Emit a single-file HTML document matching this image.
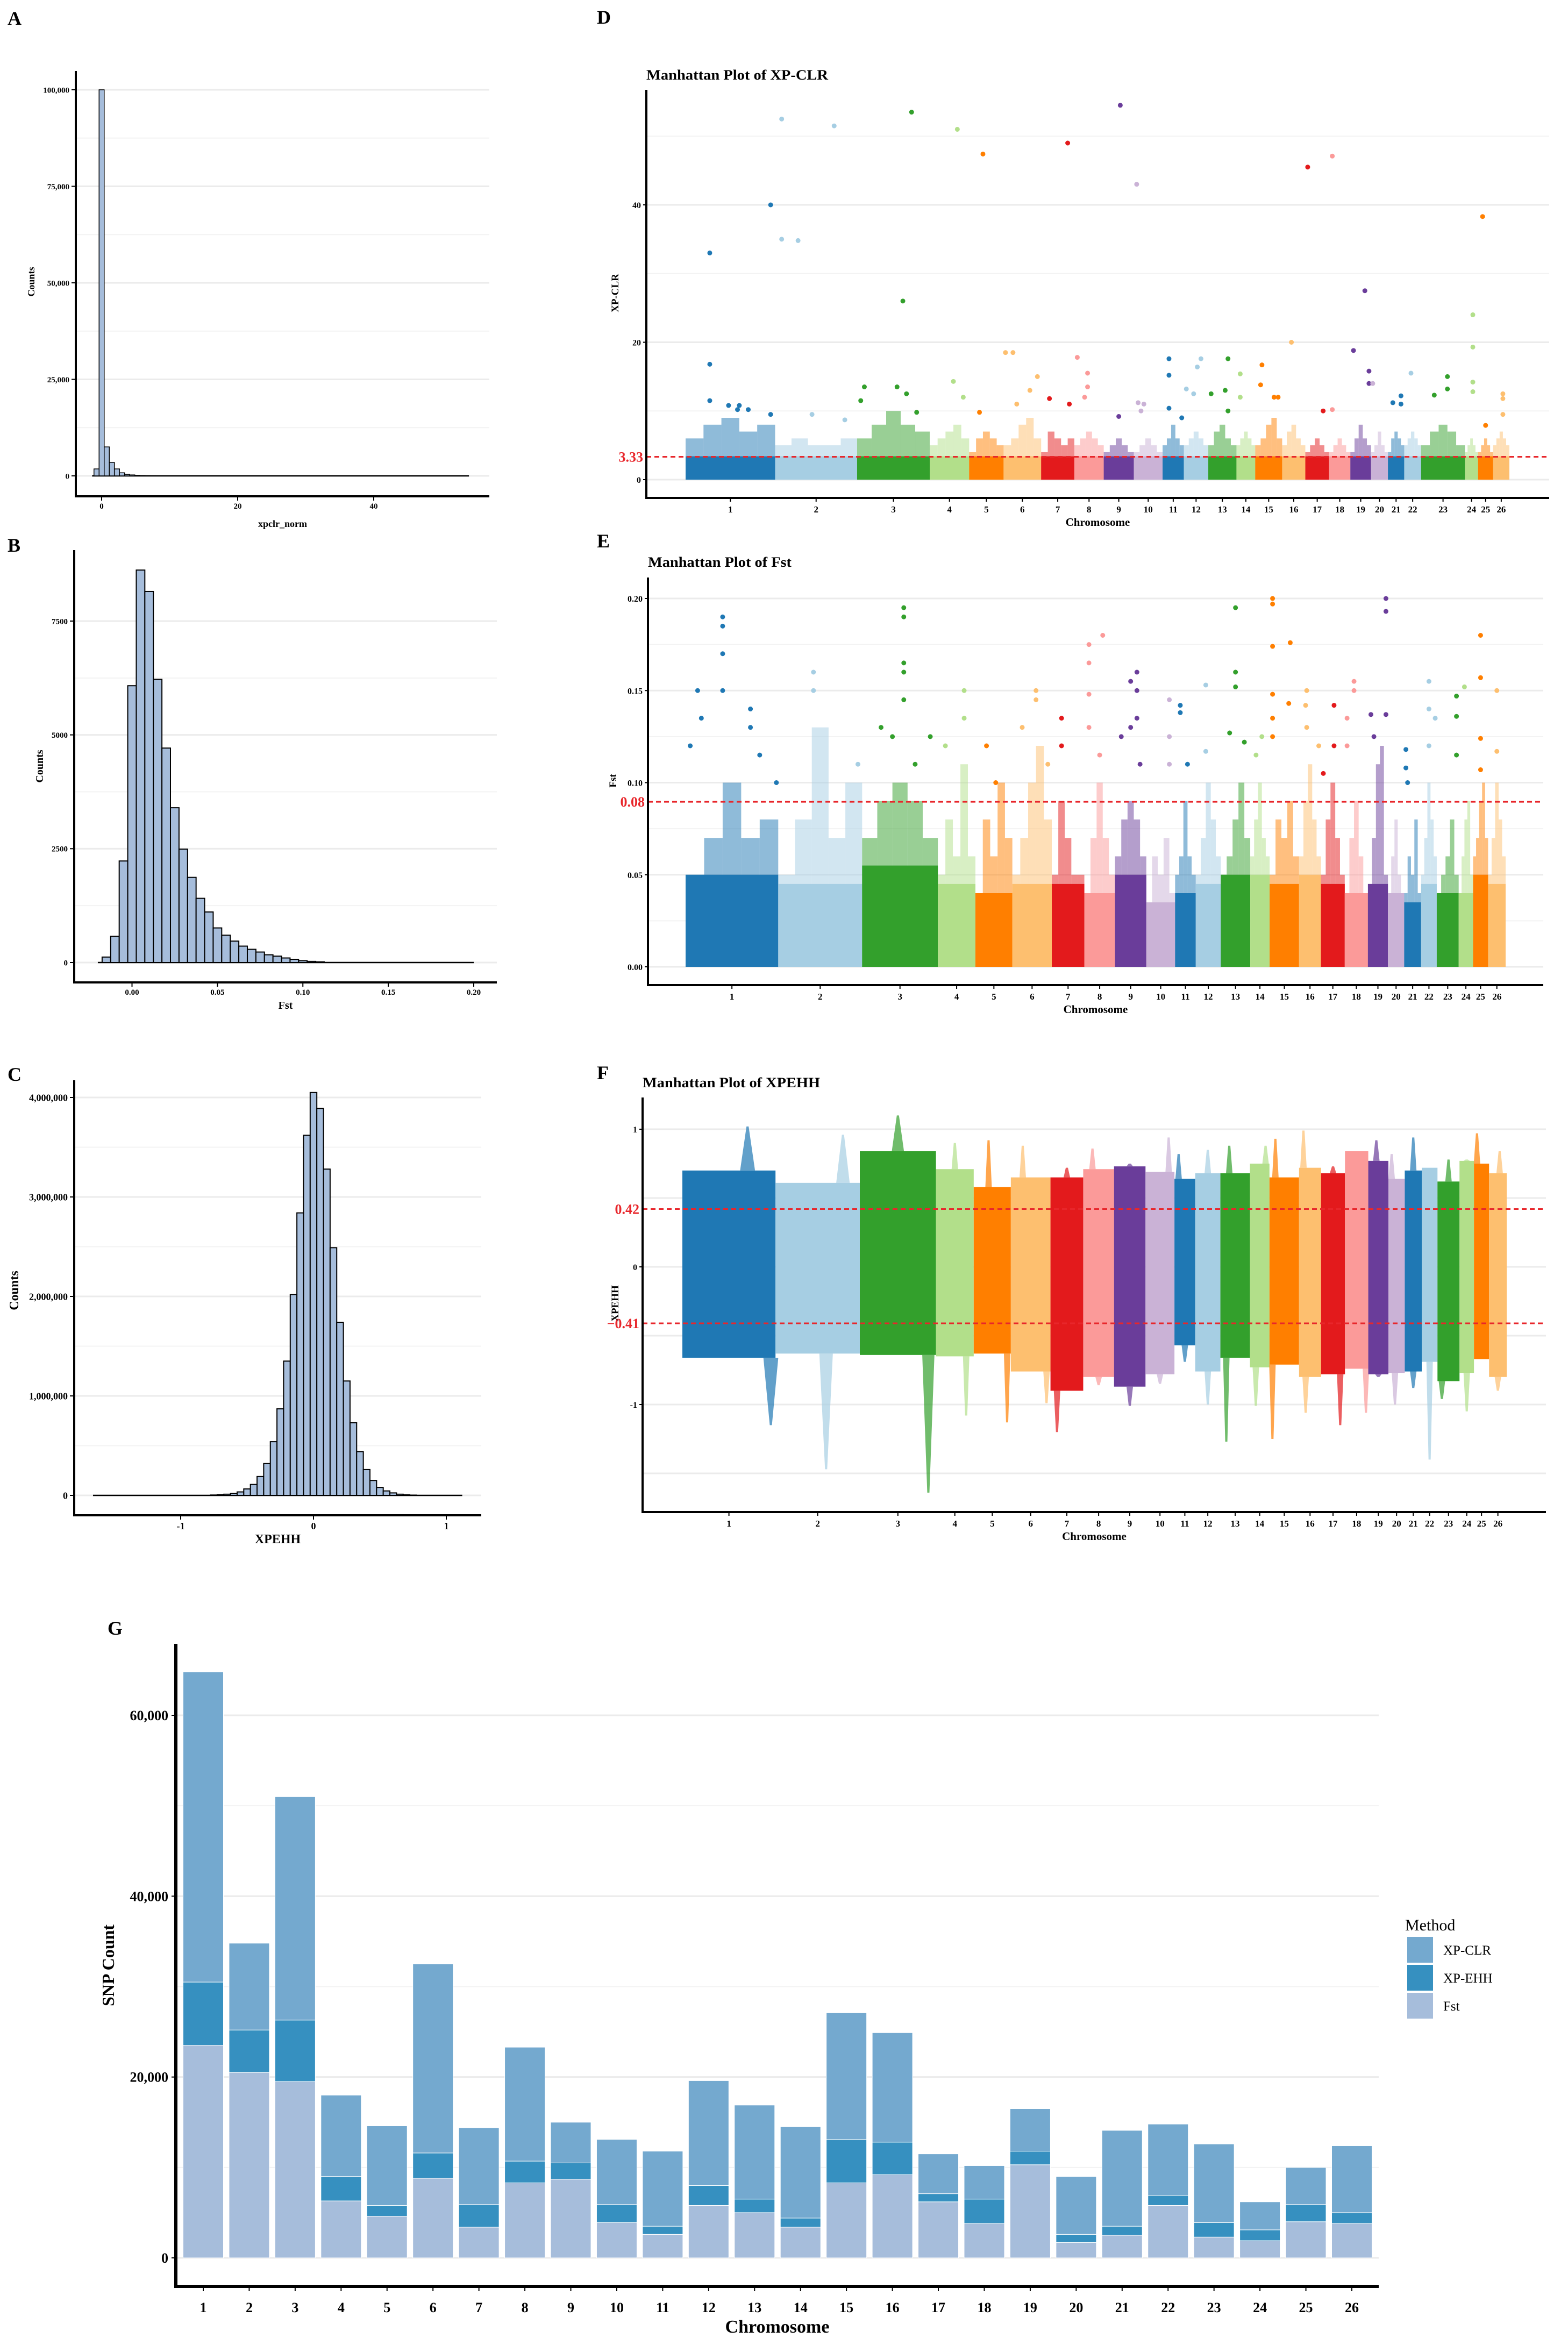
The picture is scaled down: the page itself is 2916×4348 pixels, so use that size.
<!DOCTYPE html>
<html><head><meta charset="utf-8">
<style>
html,body{margin:0;padding:0;background:#fff;}
svg{display:block;font-family:"Liberation Serif",serif;}
</style></head>
<body>
<svg id="fig" xmlns="http://www.w3.org/2000/svg" width="2916" height="4348" viewBox="0 0 2916 4348">
<rect x="0" y="0" width="2916" height="4348" fill="#fff"/>
</svg>
<script>
// ---------- DATA ----------
const aCenters = [-0.75,0,0.75,1.5,2.25,3,3.75,4.5,5.25,6,6.75,7.5];
const aCounts = [1800,100000,7500,3500,1800,800,400,250,150,100,60,40];
const aYTicks = [0,25000,50000,75000,100000];
const aYTickLabels = ["0","25,000","50,000","75,000","100,000"];
const aXTicks = [0,20,40];
const bCenters = [-0.015,-0.01,-0.005,0,0.005,0.01,0.015,0.02,0.025,0.03,0.035,0.04,0.045,0.05,0.055,0.06,0.065,0.07,0.075,0.08,0.085,0.09,0.095,0.1,0.105,0.11];
const bCounts = [120,575,2230,6080,8620,8150,6220,4710,3400,2490,1870,1410,1110,760,600,470,360,290,230,170,140,100,70,40,25,15];
const bYTicks = [0,2500,5000,7500];
const bXTicks = [0,0.05,0.1,0.15,0.2];
const bXTickLabels = ["0.00","0.05","0.10","0.15","0.20"];
const cCenters = [-0.75,-0.7,-0.65,-0.6,-0.55,-0.5,-0.45,-0.4,-0.35,-0.3,-0.25,-0.2,-0.15,-0.1,-0.05,0,0.05,0.1,0.15,0.2,0.25,0.3,0.35,0.4,0.45,0.5,0.55,0.6,0.65,0.7,0.75];
const cCounts = [4000,8000,12000,20000,35000,65000,110000,190000,320000,540000,870000,1350000,2020000,2840000,3620000,4050000,3890000,3280000,2490000,1740000,1150000,730000,440000,260000,150000,80000,45000,25000,12000,6000,3000];
const cYTicks = [0,1000000,2000000,3000000,4000000];
const cYTickLabels = ["0","1,000,000","2,000,000","3,000,000","4,000,000"];
const cXTicks = [-1,0,1];
const chromNames = ["1","2","3","4","5","6","7","8","9","10","11","12","13","14","15","16","17","18","19","20","21","22","23","24","25","26"];
const dLengths = [143,131,116,63,55,60,53,47,48,46,34,39,45,30,43,37,38,34,33,27,26,27,70,21,24,26];
const efLengths = [148,134,121,60,59,63,52,49,50,46,33,40,47,31,47,35,38,37,32,26,27,25,35,23,24,28];
const dEnvelope = [[6,8,9,7,8],[5,6,5,5,6],[6,8,10,8,7],[5,6,7,8,6],[4,6,7,6,5],[5,6,8,9,6],[4,7,6,5,6],[5,6,7,6,5],[4,5,6,5,4],[4,5,6,5,4],[5,6,8,6,5],[5,6,7,6,5],[5,7,8,6,5],[5,6,7,6,5],[5,6,8,9,6],[5,7,8,6,5],[4,5,6,5,4],[4,5,6,5,4],[4,6,8,6,5],[4,5,7,5,4],[4,6,7,6,5],[5,6,7,6,5],[5,7,8,7,5],[4,5,6,5,4],[4,5,6,5,4],[5,6,7,6,5]];
const dOutliers = [
 [[0.27,33],[0.27,16.8],[0.27,11.5],[0.48,10.8],[0.6,10.8],[0.58,10.2],[0.7,10.2],[0.95,40],[0.95,9.5]],
 [[0.08,52.5],[0.72,51.5],[0.08,35],[0.28,34.8],[0.45,9.5],[0.85,8.7]],
 [[0.75,53.5],[0.63,26],[0.1,13.5],[0.55,13.5],[0.68,12.5],[0.82,9.8],[0.05,11.5]],
 [[0.7,51],[0.6,14.3],[0.85,12]],
 [[0.4,47.4],[0.3,9.8]],
 [[0.05,18.5],[0.25,18.5],[0.9,15],[0.7,13],[0.35,11]],
 [[0.8,49],[0.25,11.8],[0.85,11]],
 [[0.1,17.8],[0.45,15.5],[0.45,13.5],[0.35,12]],
 [[0.55,54.5],[0.5,9.2]],
 [[0.1,43],[0.15,11.2],[0.35,11],[0.25,10]],
 [[0.3,17.6],[0.3,15.2],[0.3,10.4],[0.9,9]],
 [[0.7,17.6],[0.55,16.4],[0.1,13.2],[0.4,12.5]],
 [[0.7,17.6],[0.1,12.5],[0.6,13],[0.7,10]],
 [[0.2,15.4],[0.2,12]],
 [[0.25,16.7],[0.2,13.8],[0.7,12],[0.85,12]],
 [[0.4,20]],
 [[0.1,45.5],[0.75,10]],
 [[0.15,47.1],[0.15,10.2]],
 [[0.7,27.5],[0.15,18.8],[0.9,15.8],[0.9,14]],
 [[0.1,14]],
 [[0.3,11.2],[0.8,12.2],[0.8,11]],
 [[0.4,15.5]],
 [[0.6,15],[0.3,12.3],[0.6,13.2]],
 [[0.6,24],[0.6,19.3],[0.6,14.2],[0.6,12.8]],
 [[0.3,38.3],[0.5,7.9]],
 [[0.6,12.5],[0.6,11.8],[0.6,9.5]]];
const dSolidTop = [3.4,3.4,3.4,3.4,3.4,3.4,3.4,3.4,3.4,3.4,3.4,3.4,3.4,3.4,3.4,3.4,3.4,3.4,3.4,3.4,3.4,3.4,3.4,3.4,3.4,3.4];
const dYTicks = [0,20,40];
const dThreshold = 3.33;
const eEnvelope = [[0.05,0.07,0.10,0.07,0.08],[0.05,0.08,0.13,0.07,0.10],[0.07,0.09,0.10,0.09,0.07],[0.05,0.08,0.06,0.11,0.06],[0.04,0.08,0.06,0.10,0.07],[0.05,0.07,0.10,0.12,0.08],[0.05,0.09,0.07,0.05,0.05],[0.04,0.07,0.10,0.07,0.05],[0.06,0.08,0.09,0.08,0.06],[0.03,0.06,0.05,0.07,0.04],[0.05,0.06,0.09,0.06,0.05],[0.05,0.07,0.10,0.08,0.06],[0.05,0.06,0.08,0.10,0.07],[0.06,0.08,0.10,0.07,0.06],[0.05,0.08,0.07,0.09,0.06],[0.06,0.09,0.11,0.08,0.06],[0.05,0.08,0.10,0.07,0.05],[0.04,0.07,0.09,0.06,0.04],[0.04,0.07,0.11,0.12,0.05],[0.04,0.06,0.08,0.05,0.04],[0.04,0.06,0.05,0.08,0.04],[0.05,0.07,0.10,0.08,0.06],[0.04,0.05,0.06,0.08,0.05],[0.04,0.06,0.08,0.09,0.05],[0.06,0.07,0.09,0.10,0.07],[0.05,0.07,0.10,0.08,0.06]];
const eOutliers = [
 [[0.4,0.19],[0.4,0.185],[0.4,0.17],[0.4,0.15],[0.13,0.15],[0.17,0.135],[0.05,0.12],[0.7,0.14],[0.7,0.13],[0.8,0.115],[0.98,0.1]],
 [[0.42,0.16],[0.42,0.15],[0.95,0.11]],
 [[0.55,0.195],[0.55,0.19],[0.55,0.165],[0.55,0.16],[0.55,0.145],[0.25,0.13],[0.4,0.125],[0.9,0.125],[0.7,0.11]],
 [[0.7,0.15],[0.7,0.135],[0.2,0.12]],
 [[0.3,0.12],[0.55,0.10]],
 [[0.6,0.15],[0.6,0.145],[0.25,0.13],[0.9,0.11]],
 [[0.3,0.135],[0.3,0.12]],
 [[0.15,0.175],[0.15,0.165],[0.15,0.148],[0.6,0.18],[0.15,0.13],[0.5,0.115]],
 [[0.7,0.16],[0.5,0.155],[0.7,0.15],[0.7,0.135],[0.5,0.13],[0.2,0.125],[0.8,0.11]],
 [[0.8,0.145],[0.8,0.125],[0.8,0.11]],
 [[0.25,0.142],[0.25,0.138],[0.6,0.11]],
 [[0.4,0.153],[0.4,0.117]],
 [[0.5,0.195],[0.5,0.16],[0.5,0.152],[0.3,0.127],[0.8,0.122]],
 [[0.6,0.125],[0.3,0.115]],
 [[0.1,0.2],[0.1,0.197],[0.1,0.174],[0.7,0.176],[0.1,0.148],[0.65,0.143],[0.1,0.135],[0.1,0.125]],
 [[0.35,0.15],[0.3,0.142],[0.35,0.13],[0.9,0.12]],
 [[0.55,0.142],[0.55,0.12],[0.1,0.105]],
 [[0.4,0.155],[0.4,0.15],[0.1,0.135],[0.1,0.12]],
 [[0.9,0.2],[0.9,0.193],[0.15,0.137],[0.9,0.137],[0.3,0.125]],
 [],
 [[0.1,0.118],[0.1,0.108],[0.2,0.1]],
 [[0.5,0.155],[0.5,0.14],[0.9,0.135],[0.5,0.12]],
 [[0.9,0.147],[0.9,0.136],[0.9,0.115]],
 [[0.4,0.152]],
 [[0.5,0.18],[0.5,0.157],[0.5,0.124],[0.5,0.107]],
 [[0.5,0.15],[0.5,0.117]]];
const eSolidTop = [0.05,0.045,0.055,0.045,0.04,0.045,0.045,0.04,0.05,0.035,0.04,0.045,0.05,0.05,0.045,0.05,0.045,0.04,0.045,0.04,0.035,0.045,0.04,0.04,0.05,0.045];
const eYTicks = [0,0.05,0.1,0.15,0.2];
const eYTickLabels = ["0.00","0.05","0.10","0.15","0.20"];
const eThreshold = 0.0896;
const fBodyTop = [0.70,0.61,0.84,0.71,0.58,0.65,0.65,0.71,0.73,0.69,0.64,0.68,0.68,0.75,0.65,0.72,0.68,0.84,0.77,0.64,0.70,0.72,0.62,0.77,0.75,0.68];
const fMax = [1.02,0.96,1.10,0.90,0.92,0.88,0.72,0.86,0.75,0.94,0.82,0.85,0.88,0.88,0.93,0.99,0.73,0.84,0.92,0.82,0.94,0.72,0.78,0.78,0.97,0.84];
const fBodyBottom = [-0.66,-0.63,-0.64,-0.65,-0.63,-0.76,-0.90,-0.80,-0.87,-0.78,-0.57,-0.76,-0.66,-0.73,-0.71,-0.80,-0.78,-0.74,-0.78,-0.77,-0.76,-0.69,-0.83,-0.77,-0.67,-0.80];
const fMin = [-1.15,-1.47,-1.64,-1.08,-1.13,-0.99,-1.20,-0.86,-1.01,-0.85,-0.69,-1.00,-1.27,-1.01,-1.25,-1.06,-1.15,-1.06,-0.80,-1.00,-0.88,-1.40,-0.96,-1.05,-0.67,-0.90];
const fMaxPos = [0.7,0.8,0.5,0.5,0.4,0.3,0.5,0.3,0.5,0.8,0.2,0.5,0.3,0.8,0.2,0.2,0.5,0.3,0.4,0.2,0.5,0.5,0.5,0.5,0.2,0.6];
const fMinPos = [0.95,0.6,0.9,0.8,0.9,0.9,0.2,0.5,0.5,0.5,0.5,0.5,0.2,0.3,0.1,0.3,0.8,0.9,0.5,0.4,0.5,0.5,0.2,0.5,0.5,0.5];
const fYTicks = [-1,0,1];
const fThresholds = [0.42,-0.41];
const fThreshLabels = ["0.42","\u22120.41"];
const gChrom = chromNames;
const gFst = [23500,20500,19500,6300,4600,8800,3400,8300,8700,3900,2600,5800,5000,3400,8300,9200,6200,3800,10300,1700,2500,5800,2300,1900,4000,3800];
const gXpehh = [7000,4700,6800,2700,1200,2800,2500,2400,1800,2000,900,2200,1500,1000,4800,3600,900,2700,1500,900,1000,1100,1600,1200,1900,1200];
const gXpclr = [34300,9600,24700,9000,8800,20900,8500,12600,4500,7200,8300,11600,10400,10100,14000,12100,4400,3700,4700,6400,10600,7900,8700,3100,4100,7400];
const gYTicks = [0,20000,40000,60000];
const gYTickLabels = ["0","20,000","40,000","60,000"];
const gColors = {xpclr:"#74a9cf", xpehh:"#3690c0", fst:"#a6bddb"};
const palette = ["#1f78b4","#a6cee3","#33a02c","#b2df8a","#ff7f00","#fdbf6f","#e31a1c","#fb9a99","#6a3d9a","#cab2d6"];

// ---------- HELPERS ----------
const NS = "http://www.w3.org/2000/svg";
const svg = document.getElementById("fig");
function el(tag, attrs, parent){
  const e = document.createElementNS(NS, tag);
  for (const k in attrs) e.setAttribute(k, attrs[k]);
  (parent||svg).appendChild(e);
  return e;
}
function lin(d0,d1,r0,r1){ return v => r0 + (v-d0)*(r1-r0)/(d1-d0); }
function txt(x,y,s,size,anchor,parent,extra){
  const t = el("text", Object.assign({x:x,y:y,"font-size":size,"text-anchor":anchor||"middle","font-weight":"bold",fill:"#000"}, extra||{}), parent);
  t.textContent = s;
  return t;
}
function group(name){
  const g = el("g",{});
  
  
  return g;
}
function axes(g, L,T,R,B, w){
  const ya = el("line",{x1:L,y1:T,x2:L,y2:B,stroke:"#000","stroke-width":w},g);
  
  
  const xa = el("line",{x1:L-w/2,y1:B,x2:R,y2:B,stroke:"#000","stroke-width":w},g);
  
  
}
function hgrid(g,L,R,y,minor){
  const l = el("line",{x1:L,y1:y,x2:R,y2:y,stroke:minor?"#f3f3f3":"#ebebeb","stroke-width":minor?2:3},g);
  
  
}
function panelLabel(x,y,s){
  const t = txt(x,y,s,36,"start");
  
  
}

// ---------- HISTOGRAMS ----------
function histogram(cfg){
  const g = group(cfg.name);
  const xs = lin(cfg.xd[0],cfg.xd[1],cfg.xr[0],cfg.xr[1]);
  const ys = lin(cfg.yd[0],cfg.yd[1],cfg.yr[0],cfg.yr[1]);
  cfg.yTicks.forEach((v,i)=>{
    hgrid(g,cfg.L,cfg.R,ys(v),false);
    if(i<cfg.yTicks.length-1) hgrid(g,cfg.L,cfg.R,ys((v+cfg.yTicks[i+1])/2),true);
  });
  const bl = el("line",{x1:xs(cfg.base[0]),y1:ys(0),x2:xs(cfg.base[1]),y2:ys(0),stroke:"#000","stroke-width":2.5},g);
  
  
  const bw = Math.abs(xs(cfg.binW)-xs(0));
  cfg.centers.forEach((c,i)=>{
    const y0 = ys(0), y1 = ys(cfg.counts[i]);
    const r = el("rect",{x:xs(c)-bw/2,y:y1,width:bw,height:Math.max(0.5,y0-y1),fill:"#a6bddb",stroke:"#000","stroke-width":cfg.sw},g);
    
    
  });
  axes(g,cfg.L,cfg.T,cfg.R,cfg.B,cfg.aw);
  cfg.yTicks.forEach((v,i)=>{
    const y = ys(v);
    el("line",{x1:cfg.L-8,y1:y,x2:cfg.L,y2:y,stroke:"#000","stroke-width":2},g);
    const t = txt(cfg.L-12,y+cfg.fs*0.35,cfg.yLabels[i],cfg.fs,"end",g);
    
    
  });
  cfg.xTicks.forEach((v,i)=>{
    const x = xs(v);
    el("line",{x1:x,y1:cfg.B,x2:x,y2:cfg.B+8,stroke:"#000","stroke-width":2},g);
    const t = txt(x,cfg.B+8+cfg.fs,cfg.xLabels[i],cfg.fs,"middle",g);
    
    
  });
  const xt = txt((cfg.L+cfg.R)/2,cfg.xTitleY,cfg.xTitle,cfg.tfs,"middle",g);
  
  
  const yt = txt(0,0,"Counts",cfg.tfs,"middle",g,{transform:`translate(${cfg.yTitleX},${cfg.yTitleY}) rotate(-90)`});
  
  
}
histogram({name:"histogram-xpclr",L:141,T:132,R:910,B:923,xd:[0,40],xr:[189,695],yd:[0,100000],yr:[885,167],
  centers:aCenters,counts:aCounts,binW:0.75,base:[-1.4,54],yTicks:aYTicks,yLabels:aYTickLabels,xTicks:aXTicks,xLabels:aXTicks.map(String),
  fs:15,tfs:18,aw:4,sw:1.5,xTitle:"xpclr_norm",xTitleY:980,yTitleX:64,yTitleY:524});
histogram({name:"histogram-fst",L:138,T:1023,R:924,B:1827,xd:[0,0.2],xr:[245.5,881],yd:[0,7500],yr:[1790,1155],
  centers:bCenters,counts:bCounts,binW:0.005,base:[-0.02,0.2],yTicks:bYTicks,yLabels:bYTicks.map(String),xTicks:bXTicks,xLabels:bXTickLabels,
  fs:15,tfs:20,aw:4,sw:2,xTitle:"Fst",xTitleY:1876,yTitleX:80,yTitleY:1425});
histogram({name:"histogram-xpehh",L:138,T:2009,R:895,B:2818,xd:[0,1],xr:[583,830],yd:[0,4000000],yr:[2781,2041],
  centers:cCenters,counts:cCounts,binW:0.05,base:[-1.66,1.12],yTicks:cYTicks,yLabels:cYTickLabels,xTicks:cXTicks,xLabels:cXTicks.map(String),
  fs:18,tfs:24,aw:4,sw:2,xTitle:"XPEHH",xTitleY:2870,yTitleX:34,yTitleY:2400});
panelLabel(14,46,"A");
panelLabel(14,1026,"B");
panelLabel(14,2010,"C");

// ---------- MANHATTAN ----------
function chromPositions(lengths,x0,x1){
  const tot = lengths.reduce((a,b)=>a+b,0);
  const out=[]; let acc=0;
  lengths.forEach(l=>{ out.push([x0+acc/tot*(x1-x0), x0+(acc+l)/tot*(x1-x0)]); acc+=l; });
  return out;
}
function manhattanFrame(cfg,g,ys){
  cfg.grid.forEach(v=>hgrid(g,cfg.L,cfg.R,ys(v),false));
  (cfg.minor||[]).forEach(v=>hgrid(g,cfg.L,cfg.R,ys(v),true));
}
function manhattanAxes(cfg,g,ys,pos){
  axes(g,cfg.L,cfg.T,cfg.R,cfg.B,4);
  cfg.yTicks.forEach((v,i)=>{
    const y=ys(v);
    el("line",{x1:cfg.L-6,y1:y,x2:cfg.L,y2:y,stroke:"#000","stroke-width":2},g);
    const t = txt(cfg.L-10,y+6,cfg.yLabels[i],16,"end",g);
    
    
  });
  pos.forEach((p,i)=>{
    const x=(p[0]+p[1])/2;
    el("line",{x1:x,y1:cfg.B,x2:x,y2:cfg.B+7,stroke:"#000","stroke-width":2},g);
    const t = txt(x,cfg.B+27,chromNames[i],17,"middle",g);
    
    
  });
  const xt = txt((cfg.L+cfg.R)/2,cfg.B+52,"Chromosome",21,"middle",g);
  
  
  const yt = txt(0,0,cfg.yTitle,19,"middle",g,{transform:`translate(${cfg.yTitleX},${cfg.yTitleY}) rotate(-90)`});
  
  
  const tt = txt(cfg.L,cfg.titleY,cfg.title,26,"start",g,{textLength:cfg.titleW,lengthAdjust:"spacingAndGlyphs"});
  
  
}
function threshold(cfg,g,ys,v,label){
  const y=ys(v);
  const l = el("line",{x1:cfg.L,y1:y,x2:cfg.R,y2:y,stroke:"#e8262b","stroke-width":3,"stroke-dasharray":"9,6"},g);
  
  
  const t = txt(cfg.L-6,y+9,label,26,"end",g,{fill:"#e8262b"});
  
  
}
function envelopeChart(cfg,env,outliers,solid,lengths,thr,thrLabel){
  const g = group(cfg.name);
  const ys = lin(cfg.yd[0],cfg.yd[1],cfg.yr[0],cfg.yr[1]);
  manhattanFrame(cfg,g,ys);
  const pos = chromPositions(lengths,cfg.cx0,cfg.cx1);
  pos.forEach((p,i)=>{
    const col = palette[i%10];
    const w = p[1]-p[0];
    const n = env[i].length;
    env[i].forEach((v,k)=>{
      const r = el("rect",{x:p[0]+w*k/n,y:ys(v),width:w/n,height:ys(0)-ys(v),fill:col,opacity:0.5},g);
      
      
    });
    const r = el("rect",{x:p[0],y:ys(solid[i]),width:w,height:ys(0)-ys(solid[i]),fill:col},g);
    
    
    outliers[i].forEach(o=>{
      const c = el("circle",{cx:p[0]+w*o[0],cy:ys(o[1]),r:4.5,fill:col},g);
      
      
    });
  });
  threshold(cfg,g,ys,thr,thrLabel);
  manhattanAxes(cfg,g,ys,pos);
}
envelopeChart({name:"manhattan-xpclr",L:1202,T:167,R:2881,B:926,yd:[0,40],yr:[892,381],cx0:1275,cx1:2807,
  grid:[0,20,40],minor:[10,30,50],yTicks:dYTicks,yLabels:dYTicks.map(String),yTitle:"XP-CLR",yTitleX:1150,yTitleY:545,
  title:"Manhattan Plot of XP-CLR",titleY:148,titleW:338},dEnvelope,dOutliers,dSolidTop,dLengths,dThreshold,"3.33");
envelopeChart({name:"manhattan-fst",L:1205,T:1074,R:2870,B:1832,yd:[0,0.2],yr:[1798,1113],cx0:1275,cx1:2800,
  grid:[0,0.05,0.1,0.15,0.2],minor:[0.025,0.075,0.125,0.175],yTicks:eYTicks,yLabels:eYTickLabels,yTitle:"Fst",yTitleX:1146,yTitleY:1452,
  title:"Manhattan Plot of Fst",titleY:1054,titleW:267},eEnvelope,eOutliers,eSolidTop,efLengths,eThreshold,"0.08");
(function(){
  const cfg = {name:"manhattan-xpehh",L:1195,T:2041,R:2875,B:2812,yd:[0,1],yr:[2356,2100],cx0:1269,cx1:2802,
    grid:[1,0.5,0,-0.5,-1,-1.5],yTicks:fYTicks,yLabels:["-1","0","1"],yTitle:"XPEHH",yTitleX:1150,yTitleY:2424,
    title:"Manhattan Plot of XPEHH",titleY:2022,titleW:330};
  const g = group(cfg.name);
  const ys = lin(0,1,2356,2100);
  manhattanFrame(cfg,g,ys);
  const pos = chromPositions(efLengths,cfg.cx0,cfg.cx1);
  pos.forEach((p,i)=>{
    const col = palette[i%10], w=p[1]-p[0];
    const r = el("rect",{x:p[0],y:ys(fBodyTop[i]),width:w,height:ys(fBodyBottom[i])-ys(fBodyTop[i]),fill:col},g);
    
    
    const xm = p[0]+w*fMaxPos[i], xn = p[0]+w*fMinPos[i], hw = Math.max(6,w*0.08);
    const up = el("polygon",{points:`${xm-hw},${ys(fBodyTop[i])} ${xm-2},${ys(fMax[i])} ${xm+2},${ys(fMax[i])} ${xm+hw},${ys(fBodyTop[i])}`,fill:col,opacity:0.7},g);
    
    
    const lo = el("polygon",{points:`${xn-hw},${ys(fBodyBottom[i])} ${xn-2},${ys(fMin[i])} ${xn+2},${ys(fMin[i])} ${xn+hw},${ys(fBodyBottom[i])}`,fill:col,opacity:0.7},g);
    
    
  });
  fThresholds.forEach((v,i)=>threshold(cfg,g,ys,v,fThreshLabels[i]));
  manhattanAxes(cfg,g,ys,pos);
})();
panelLabel(1110,44,"D");
panelLabel(1110,1018,"E");
panelLabel(1110,2007,"F");

// ---------- G ----------
(function(){
  const g = group("stacked-bar-chart");
  const L=327,T=3057,R=2564,B=4252;
  const ys = lin(0,60000,4199,3190);
  const xc = i => 378 + i*(2514-378)/(gChrom.length-1);
  const bw = 75;
  [10000,30000,50000].forEach(v=>hgrid(g,L,R,ys(v),true));
  gYTicks.forEach(v=>hgrid(g,L,R,ys(v),false));
  gChrom.forEach((c,i)=>{
    const segs = [["fst",0,gFst[i]],["xpehh",gFst[i],gFst[i]+gXpehh[i]],["xpclr",gFst[i]+gXpehh[i],gFst[i]+gXpehh[i]+gXpclr[i]]];
    segs.forEach(s=>{
      const r = el("rect",{x:xc(i)-bw/2,y:ys(s[2]),width:bw,height:ys(s[1])-ys(s[2]),fill:gColors[s[0]],stroke:"#fff","stroke-width":1},g);
      
      
    });
  });
  axes(g,L,T,R,B,6);
  gYTicks.forEach((v,i)=>{
    const y=ys(v);
    el("line",{x1:L-8,y1:y,x2:L,y2:y,stroke:"#000","stroke-width":2},g);
    const t = txt(L-14,y+9,gYTickLabels[i],26,"end",g);
    
    
  });
  gChrom.forEach((c,i)=>{
    el("line",{x1:xc(i),y1:B,x2:xc(i),y2:B+9,stroke:"#000","stroke-width":2},g);
    const t = txt(xc(i),4300,c,26,"middle",g);
    
    
  });
  const xt = txt((L+R)/2,4338,"Chromosome",34,"middle",g);
  
  
  const yt = txt(0,0,"SNP Count",32,"middle",g,{transform:"translate(212,3655) rotate(-90)"});
  
  
  const lg = group("legend");
  const lt = txt(2613,3590,"Method",30,"start",lg,{"font-weight":"normal"});
  
  
  [["xpclr","XP-CLR"],["xpehh","XP-EHH"],["fst","Fst"]].forEach((m,i)=>{
    const y = 3602 + i*52;
    const k = el("rect",{x:2617,y:y,width:48,height:48,fill:gColors[m[0]]},lg);
    
    
    const t = txt(2684,y+33,m[1],25,"start",lg,{"font-weight":"normal"});
    
    
  });
})();
panelLabel(200,3040,"G");
</script>
</body></html>
